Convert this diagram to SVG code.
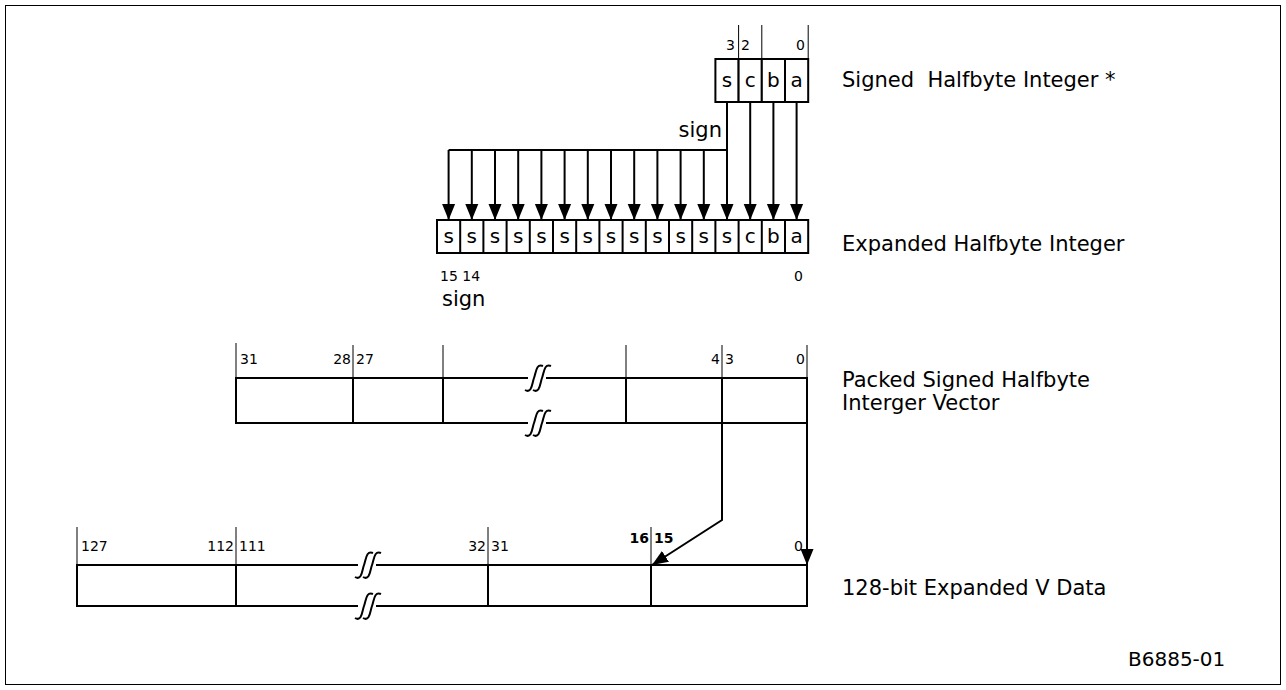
<svg xmlns="http://www.w3.org/2000/svg" width="1286" height="690" viewBox="0 0 1286 690">
<defs>
<style>
.box{fill:#fff;stroke:#000;stroke-width:2}
.ln{fill:none;stroke:#000;stroke-width:2}
.tk{fill:none;stroke:#000;stroke-width:1}
.t{font-family:"DejaVu Sans",Verdana,sans-serif;font-size:21px;fill:#000;white-space:pre}
.m{font-family:"DejaVu Sans",Verdana,sans-serif;font-size:20px;fill:#000}
.s{font-family:"DejaVu Sans",Verdana,sans-serif;font-size:14px;fill:#000}
.b{font-weight:bold}
.c{text-anchor:middle}
.e{text-anchor:end}
.brk{fill:none;stroke:#000;stroke-width:2}
</style>
<marker id="ah" markerUnits="userSpaceOnUse" markerWidth="16" markerHeight="16" viewBox="0 0 16 16" refX="16" refY="8" orient="auto">
<path d="M0,1.5 L16,8 L0,14.5 Z" fill="#000"/>
</marker>
<g id="brkSym">
<rect x="-9" y="-3" width="18" height="6" fill="#fff"/>
<path class="brk" d="M-12,12 C-5,16 -5,5 -3,0 C-1,-5 -1,-15 6,-12"/>
<path class="brk" d="M-4,12 C3,16 3,5 5,0 C7,-5 7,-15 14,-12"/>
</g>
</defs>
<rect x="5.5" y="5.5" width="1275" height="679" fill="#fff" stroke="#000" stroke-width="1"/>

<g id="halfbyte">
<rect class="box" x="715.4" y="59" width="23.2" height="43"/>
<rect class="box" x="738.6" y="59" width="23.2" height="43"/>
<rect class="box" x="761.8" y="59" width="23.2" height="43"/>
<rect class="box" x="785" y="59" width="23.2" height="43"/>
<text class="m c" x="727" y="87">s</text>
<text class="m c" x="750.2" y="87">c</text>
<text class="m c" x="773.4" y="87">b</text>
<text class="m c" x="796.6" y="87">a</text>
<path class="tk" d="M738.6,25V59M761.8,25V59M808.2,25V59"/>
<text class="s e" x="735" y="50">3</text>
<text class="s" x="741" y="50">2</text>
<text class="s e" x="805" y="50">0</text>
<text class="t" x="842" y="87" xml:space="preserve">Signed  Halfbyte Integer *</text>
<text class="t e" x="722" y="137">sign</text>
</g>

<g id="expanded">
<rect class="box" x="437" y="220" width="371.2" height="33"/>
<path class="ln" d="M460.2,220V253M483.4,220V253M506.6,220V253M529.8,220V253M553,220V253M576.2,220V253M599.4,220V253M622.6,220V253M645.8,220V253M669,220V253M692.2,220V253M715.4,220V253M738.6,220V253M761.8,220V253M785,220V253"/>
<g class="m c">
<text x="448.6" y="243">s</text><text x="471.8" y="243">s</text><text x="495" y="243">s</text><text x="518.2" y="243">s</text>
<text x="541.4" y="243">s</text><text x="564.6" y="243">s</text><text x="587.8" y="243">s</text><text x="611" y="243">s</text>
<text x="634.2" y="243">s</text><text x="657.4" y="243">s</text><text x="680.6" y="243">s</text><text x="703.8" y="243">s</text>
<text x="727" y="243">s</text><text x="750.2" y="243">c</text><text x="773.4" y="243">b</text><text x="796.6" y="243">a</text>
</g>
<text class="s" x="440" y="281">15 14</text>
<text class="s e" x="803" y="281">0</text>
<text class="t" x="442" y="306">sign</text>
<text class="t" x="842" y="251">Expanded Halfbyte Integer</text>
</g>

<g id="packed">
<rect class="box" x="236" y="378" width="571" height="45"/>
<path class="ln" d="M353,378V423M443,378V423M626,378V423M722,378V423"/>
<path class="tk" d="M236,343V378M353,345V378M443,345V378M626,345V378M722,345V378M807,345V378"/>
<text class="s" x="240" y="364">31</text>
<text class="s e" x="351" y="364">28</text>
<text class="s" x="356" y="364">27</text>
<text class="s e" x="720" y="364">4</text>
<text class="s" x="725" y="364">3</text>
<text class="s e" x="805" y="364">0</text>
<use href="#brkSym" x="537" y="378"/>
<use href="#brkSym" x="537" y="423"/>
<text class="t" x="842" y="387">Packed Signed Halfbyte</text>
<text class="t" x="842" y="410">Interger Vector</text>
</g>

<g id="expanded128">
<rect class="box" x="77" y="565" width="730" height="41"/>
<path class="ln" d="M236,565V606M488,565V606M651,565V606"/>
<path class="tk" d="M77,527V565M236,527V565M488,527V565M651,527V565"/>
<text class="s" x="81" y="551">127</text>
<text class="s e" x="234" y="551">112</text>
<text class="s" x="239" y="551">111</text>
<text class="s e" x="486" y="551">32</text>
<text class="s" x="491" y="551">31</text>
<text class="s b e" x="649" y="543">16</text>
<text class="s b" x="654" y="543">15</text>
<text class="s e" x="803" y="551">0</text>
<use href="#brkSym" x="367" y="565"/>
<use href="#brkSym" x="367" y="606"/>
<text class="t" x="842" y="595">128-bit Expanded V Data</text>
</g>

<g id="connectors">
<path class="ln" d="M727,102V150H448.6"/>
<path class="ln" marker-end="url(#ah)" d="M727,150V220"/>
<path class="ln" marker-end="url(#ah)" d="M750.2,102V220"/>
<path class="ln" marker-end="url(#ah)" d="M773.4,102V220"/>
<path class="ln" marker-end="url(#ah)" d="M796.6,102V220"/>
<path class="ln" marker-end="url(#ah)" d="M448.6,150V220"/>
<path class="ln" marker-end="url(#ah)" d="M471.8,150V220"/>
<path class="ln" marker-end="url(#ah)" d="M495,150V220"/>
<path class="ln" marker-end="url(#ah)" d="M518.2,150V220"/>
<path class="ln" marker-end="url(#ah)" d="M541.4,150V220"/>
<path class="ln" marker-end="url(#ah)" d="M564.6,150V220"/>
<path class="ln" marker-end="url(#ah)" d="M587.8,150V220"/>
<path class="ln" marker-end="url(#ah)" d="M611,150V220"/>
<path class="ln" marker-end="url(#ah)" d="M634.2,150V220"/>
<path class="ln" marker-end="url(#ah)" d="M657.4,150V220"/>
<path class="ln" marker-end="url(#ah)" d="M680.6,150V220"/>
<path class="ln" marker-end="url(#ah)" d="M703.8,150V220"/>
<path class="ln" marker-end="url(#ah)" d="M722,423V520L652,565"/>
<path class="ln" marker-end="url(#ah)" d="M807,423V565"/>
</g>
<text class="m" x="1128" y="666">B6885-01</text>
</svg>
